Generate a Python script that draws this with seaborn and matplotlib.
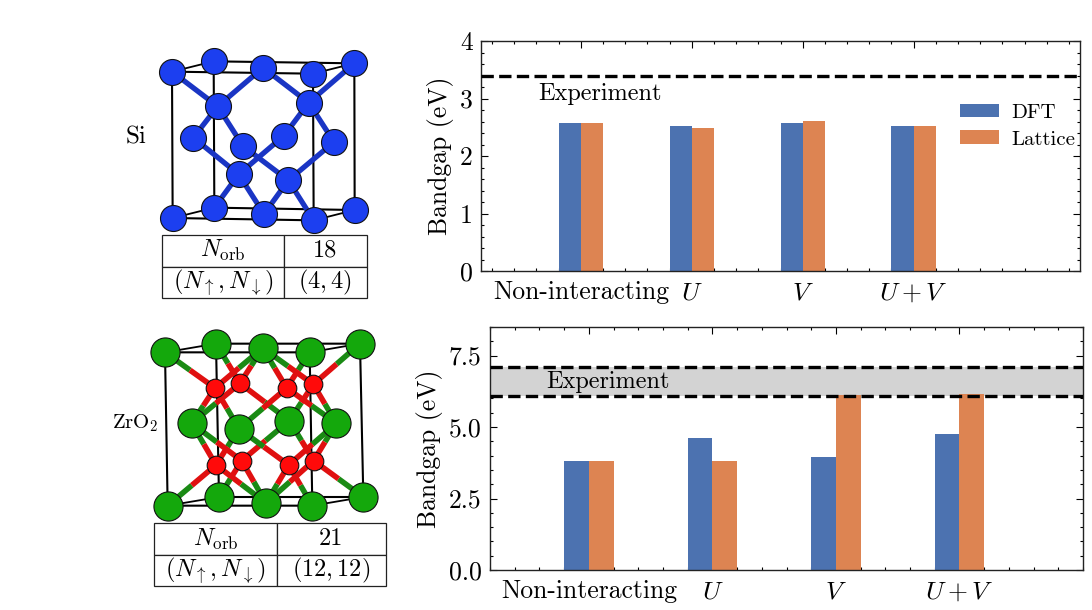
import pandas as pd
import seaborn as sns
import matplotlib.pyplot as plt
import matplotlib.ticker as mtick

# Bandgap data
categories = ['Non-interacting', '$U$', '$V$', '$U+V$']
si_dft = [2.57, 2.53, 2.57, 2.53]
si_lattice = [2.57, 2.49, 2.61, 2.53]
si_experiment = 3.4
zro2_dft = [3.82, 4.62, 3.96, 4.74]
zro2_lattice = [3.82, 3.82, 6.11, 6.14]
zro2_experiment = [6.1, 7.1]

# Crystal sketches, coordinates in picture units of each inset
si_atoms = [(311, 94), (733, 100), (313, 533), (734, 540), (459, 113), (462, 552),
            (522, 317), (672, 336), (250, 323), (399, 348), (186, 125), (609, 131),
            (323, 229), (596, 218), (386, 433), (535, 451), (188, 564), (611, 571)]
si_bonds = [((186, 125), (323, 229)), ((459, 113), (323, 229)), ((459, 113), (596, 218)),
            ((733, 100), (596, 218)), ((323, 229), (250, 323)), ((323, 229), (399, 348)),
            ((596, 218), (522, 317)), ((596, 218), (672, 336)), ((250, 323), (386, 433)),
            ((399, 348), (535, 451)), ((522, 317), (386, 433)), ((672, 336), (535, 451)),
            ((386, 433), (313, 533)), ((386, 433), (462, 552)), ((535, 451), (462, 552)),
            ((535, 451), (611, 571))]
si_front = [(186, 125), (609, 131), (611, 571), (188, 564)]
si_back = [(311, 94), (733, 100), (734, 540), (313, 533)]

zr_atoms = [(333, 71), (765, 71), (342, 531), (775, 531), (473, 84), (553, 302), (260, 310),
            (694, 310), (402, 326), (180, 97), (614, 97), (483, 549), (188, 557), (622, 557)]
o_atoms = [(330, 204), (405, 190), (545, 204), (625, 193),
           (333, 435), (410, 422), (551, 435), (626, 422)]
o_neighbours = [[(180, 97), (473, 84), (260, 310), (402, 326)],
                [(333, 71), (473, 84), (260, 310), (553, 302)],
                [(473, 84), (614, 97), (402, 326), (694, 310)],
                [(473, 84), (765, 71), (553, 302), (694, 310)],
                [(260, 310), (402, 326), (188, 557), (483, 549)],
                [(260, 310), (553, 302), (342, 531), (483, 549)],
                [(402, 326), (694, 310), (483, 549), (622, 557)],
                [(553, 302), (694, 310), (483, 549), (775, 531)]]
zr_front = [(180, 97), (614, 97), (622, 557), (188, 557)]
zr_back = [(333, 71), (765, 71), (775, 531), (342, 531)]

sns.set_theme(style='ticks', palette='deep')
plt.rcParams['font.family'] = ['cmr10', 'DejaVu Serif']
plt.rcParams['mathtext.fontset'] = 'cm'
plt.rcParams['axes.unicode_minus'] = False
plt.rcParams['axes.formatter.use_mathtext'] = True
for key in ['text.color', 'axes.labelcolor', 'xtick.color', 'ytick.color', 'axes.edgecolor']:
    plt.rcParams[key] = 'black'

W, H = 1092, 610
fig = plt.figure(figsize=(W / 100, H / 100), dpi=100)


def px_axes(left, top, right, bottom):
    return fig.add_axes([left / W, 1 - bottom / H, (right - left) / W, (bottom - top) / H])


def bar_panel(ax, dft, lattice, xlim, ylim, major, minor):
    df = pd.DataFrame({
        'cat': categories * 2,
        'gap': dft + lattice,
        'method': ['DFT'] * 4 + ['Lattice'] * 4,
    })
    sns.barplot(data=df, x='cat', y='gap', hue='method', width=0.4, gap=0, saturation=1,
                linewidth=0, ax=ax, legend=True, zorder=2)
    ax.set_xlim(*xlim)
    ax.set_ylim(*ylim)
    ax.set_xlabel('')
    ax.set_ylabel('Bandgap (eV)', fontsize=18.5, labelpad=4)
    ax.yaxis.set_major_locator(mtick.MultipleLocator(major))
    ax.yaxis.set_minor_locator(mtick.MultipleLocator(minor))
    ax.xaxis.set_minor_locator(mtick.MultipleLocator(0.2))
    ax.tick_params(which='major', direction='in', top=True, right=True, length=5, width=0.8, labelsize=18.5)
    ax.tick_params(which='minor', direction='in', top=True, right=True, length=2.5, width=0.8)
    ax.tick_params(axis='x', which='major', pad=7)
    ax.tick_params(axis='y', which='major', pad=6)
    for s in ax.spines.values():
        s.set_linewidth(1.0)
        s.set_color('#222222')


# Si panel
ax1 = px_axes(481, 41, 1080, 271)
bar_panel(ax1, si_dft, si_lattice, (-0.9, 4.5), (0, 4), 1, 0.2)
ax1.yaxis.set_major_formatter(mtick.FormatStrFormatter('%d'))
ax1.axhline(si_experiment, color='black', ls='--', lw=2.4, zorder=3)
ax1.text(0.17, 3.08, 'Experiment', fontsize=17.5, ha='center', va='center')
ax1.legend(frameon=False, loc='upper right', bbox_to_anchor=(1.009, 0.773), fontsize=15,
           handlelength=1.9, handleheight=0.62, labelspacing=0.42, handletextpad=0.56, borderpad=0)

# ZrO2 panel
ax2 = px_axes(490, 327, 1083, 570)
bar_panel(ax2, zro2_dft, zro2_lattice, (-0.8, 4.0), (0, 8.5), 2.5, 0.5)
ax2.yaxis.set_major_formatter(mtick.FormatStrFormatter('%.1f'))
ax2.legend_.remove()
ax2.axhspan(zro2_experiment[0], zro2_experiment[1], color='lightgray', lw=0, zorder=1)
for y in zro2_experiment:
    ax2.axhline(y, color='black', ls='--', lw=2.4, zorder=3)
ax2.text(0.155, 6.58, 'Experiment', fontsize=17.5, ha='center', va='center')


def sketch_axes(left, top, right, bottom):
    ax = px_axes(left, top, right, bottom)
    ax.set_xlim(0, (right - left) * 3)
    ax.set_ylim((bottom - top) * 3, 0)
    ax.axis('off')
    return ax


def draw_cell(ax, front, back):
    for rect in (front, back):
        xs = [p[0] for p in rect] + [rect[0][0]]
        ys = [p[1] for p in rect] + [rect[0][1]]
        ax.plot(xs, ys, color='black', lw=1.5, zorder=1)
    for a, b in zip(front, back):
        ax.plot([a[0], b[0]], [a[1], b[1]], color='black', lw=1.3, zorder=1)


def draw_atoms(ax, atoms, size, color, zorder):
    df = pd.DataFrame(atoms, columns=['x', 'y'])
    sns.scatterplot(data=df, x='x', y='y', s=size, color=color, edgecolor='#111111',
                    linewidth=0.8, ax=ax, zorder=zorder, legend=False)
    ax.set_xlabel('')
    ax.set_ylabel('')


def draw_table(ax, rows, x0, x1, x2, y0, y1, y2):
    xspan, yspan = ax.get_xlim()[1], ax.get_ylim()[0]
    tab = ax.table(cellText=rows, cellLoc='center',
                   colWidths=[(x1 - x0) / (x2 - x0), (x2 - x1) / (x2 - x0)],
                   bbox=[x0 / xspan, 1 - y2 / yspan, (x2 - x0) / xspan, (y2 - y0) / yspan])
    tab.auto_set_font_size(False)
    for cell in tab.get_celld().values():
        cell.set_linewidth(0.9)
        cell.set_edgecolor('#222222')
        cell.get_text().set_fontsize(17.5)


# Si crystal
ax3 = sketch_axes(110, 30, 390, 305)
draw_cell(ax3, si_front, si_back)
for a, b in si_bonds:
    ax3.plot([a[0], b[0]], [a[1], b[1]], color='#1a35c4', lw=3.8, zorder=2)
draw_atoms(ax3, si_atoms, 350, '#1c3ff0', 3)
ax3.text(78, 322, 'Si', fontsize=18, ha='center', va='center')
draw_table(ax3, [[r'$N_{\mathrm{orb}}$', '18'],
                 [r'$(N_{\uparrow},N_{\downarrow})$', '$(4,4)$']], 155, 522, 770, 616, 710, 803)

# ZrO2 crystal
ax4 = sketch_axes(105, 320, 405, 595)
draw_cell(ax4, zr_front, zr_back)
for o, zrs in zip(o_atoms, o_neighbours):
    for z in zrs:
        mx, my = (o[0] + z[0]) / 2, (o[1] + z[1]) / 2
        ax4.plot([z[0], mx], [z[1], my], color='#1a8a14', lw=4, zorder=2, solid_capstyle='butt')
        ax4.plot([o[0], mx], [o[1], my], color='#e01010', lw=4, zorder=2, solid_capstyle='butt')
draw_atoms(ax4, zr_atoms, 440, '#14a80c', 3)
draw_atoms(ax4, o_atoms, 180, '#ff0a0a', 4)
ax4.text(92, 310, 'ZrO$_2$', fontsize=15, ha='center', va='center')
draw_table(ax4, [[r'$N_{\mathrm{orb}}$', '21'],
                 [r'$(N_{\uparrow},N_{\downarrow})$', '$(12,12)$']], 148, 515, 843, 610, 704, 798)

plt.savefig('out.png', dpi=100)
